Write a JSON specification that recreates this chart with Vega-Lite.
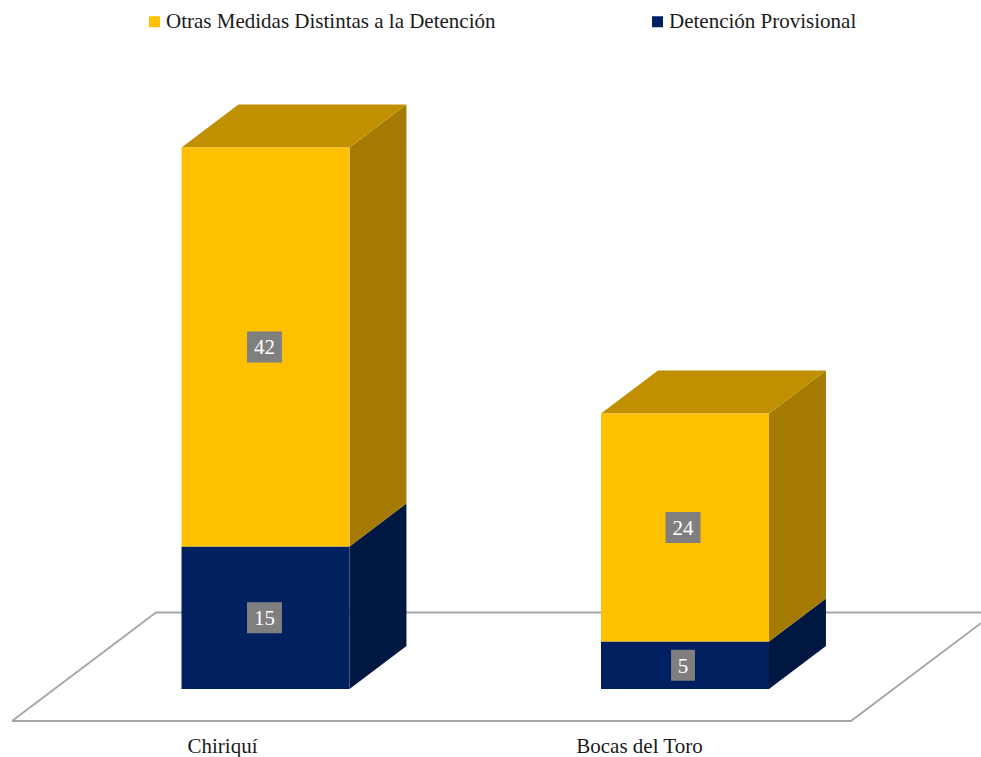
{
"$schema":"https://vega.github.io/schema/vega-lite/v6.json",
"width":981,"height":757,"padding":0,"autosize":{"type":"none"},
"background":"white",
"view":{"stroke":null},
"config":{"font":"Liberation Serif","text":{"font":"Liberation Serif"}},
"datasets":{
"floor":[
{"paso":1,"px":-1.009,"py":-3.37},
{"paso":2,"px":-0.152,"py":8.05},
{"paso":3,"px":4.842,"py":8.05},
{"paso":4,"px":3.985,"py":-3.37},
{"paso":5,"px":-1.009,"py":-3.37}],
"caras":[
{"cara":"c1-d-lado","tono":"Detención lateral","px":1,"lo":0,"hi":15},
{"cara":"c1-d-lado","tono":"Detención lateral","px":1.339,"lo":4.53,"hi":19.53},
{"cara":"c1-o-lado","tono":"Otras lateral","px":1,"lo":15,"hi":57},
{"cara":"c1-o-lado","tono":"Otras lateral","px":1.339,"lo":19.53,"hi":61.53},
{"cara":"c1-o-sup","tono":"Otras superior","px":0,"lo":57,"hi":57},
{"cara":"c1-o-sup","tono":"Otras superior","px":0.339,"lo":57,"hi":61.53},
{"cara":"c1-o-sup","tono":"Otras superior","px":1,"lo":57,"hi":61.53},
{"cara":"c1-o-sup","tono":"Otras superior","px":1.339,"lo":61.53,"hi":61.53},
{"cara":"c2-d-lado","tono":"Detención lateral","px":3.497,"lo":0,"hi":5},
{"cara":"c2-d-lado","tono":"Detención lateral","px":3.836,"lo":4.53,"hi":9.53},
{"cara":"c2-o-lado","tono":"Otras lateral","px":3.497,"lo":5,"hi":29},
{"cara":"c2-o-lado","tono":"Otras lateral","px":3.836,"lo":9.53,"hi":33.53},
{"cara":"c2-o-sup","tono":"Otras superior","px":2.497,"lo":29,"hi":29},
{"cara":"c2-o-sup","tono":"Otras superior","px":2.836,"lo":29,"hi":33.53},
{"cara":"c2-o-sup","tono":"Otras superior","px":3.497,"lo":29,"hi":33.53},
{"cara":"c2-o-sup","tono":"Otras superior","px":3.836,"lo":33.53,"hi":33.53}],
"barras":[
{"provincia":"Chiriquí","medida":"Detención Provisional","valor":15,"x0":0,"x1":1,"y0":0,"y1":15,"cx":0.494,"cy":7.5,"a0":0.39,"a1":0.598,"b0":5.87,"b1":9.13},
{"provincia":"Chiriquí","medida":"Otras Medidas Distintas a la Detención","valor":42,"x0":0,"x1":1,"y0":15,"y1":57,"cx":0.494,"cy":36,"a0":0.39,"a1":0.598,"b0":34.37,"b1":37.63},
{"provincia":"Bocas del Toro","medida":"Detención Provisional","valor":5,"x0":2.497,"x1":3.497,"y0":0,"y1":5,"cx":2.985,"cy":2.5,"a0":2.914,"a1":3.056,"b0":0.87,"b1":4.13},
{"provincia":"Bocas del Toro","medida":"Otras Medidas Distintas a la Detención","valor":24,"x0":2.497,"x1":3.497,"y0":5,"y1":29,"cx":2.985,"cy":17,"a0":2.881,"a1":3.089,"b0":15.37,"b1":18.63}],
"categorias":[
{"provincia":"Chiriquí","cx":0.244,"cy":-6.1},
{"provincia":"Bocas del Toro","cx":2.726,"cy":-6.1}]
},
"resolve":{"scale":{"color":"independent"}},
"layer":[
{"data":{"name":"floor"},
 "mark":{"type":"line","stroke":"#A6A6A6","strokeWidth":1.8,"clip":true},
 "encoding":{
  "x":{"field":"px","type":"quantitative","scale":{"domain":[-1.0804,4.7589],"nice":false,"zero":false},"axis":null},
  "y":{"field":"py","type":"quantitative","scale":{"domain":[-7.158,72.526],"nice":false,"zero":false},"axis":null},
  "order":{"field":"paso","type":"ordinal"}}},
{"data":{"name":"caras"},
 "mark":{"type":"area","clip":true},
 "encoding":{
  "x":{"field":"px","type":"quantitative","axis":null},
  "y":{"field":"lo","type":"quantitative","stack":null,"axis":null},
  "y2":{"field":"hi"},
  "detail":{"field":"cara"},
  "color":{"field":"tono","type":"nominal","legend":null,"scale":{"domain":["Detención lateral","Otras lateral","Otras superior"],"range":["#001742","#A47B00","#C09000"]}}}},
{"data":{"name":"barras"},
 "mark":{"type":"rect"},
 "encoding":{
  "x":{"field":"x0","type":"quantitative","axis":null},
  "x2":{"field":"x1"},
  "y":{"field":"y0","type":"quantitative","axis":null},
  "y2":{"field":"y1"},
  "color":{"field":"medida","type":"nominal",
   "scale":{"domain":["Otras Medidas Distintas a la Detención","Detención Provisional"],"range":["#FFC000","#002060"]},
   "legend":{"title":null,"orient":"none","legendX":144,"legendY":11,"direction":"horizontal","columns":2,"columnPadding":151,
    "symbolType":"square","symbolSize":121,"symbolStrokeWidth":0,"labelOffset":1,"labelFont":"Liberation Serif","labelFontSize":21,"labelColor":"#1A1A1A","labelLimit":500}}}},
{"data":{"name":"barras"},
 "mark":{"type":"rect","fill":"#7F7F7F"},
 "encoding":{
  "x":{"field":"a0","type":"quantitative","axis":null},
  "x2":{"field":"a1"},
  "y":{"field":"b0","type":"quantitative","axis":null},
  "y2":{"field":"b1"}}},
{"data":{"name":"barras"},
 "mark":{"type":"text","fill":"white","fontSize":21,"font":"Liberation Serif","align":"center","baseline":"middle","dy":1.5},
 "encoding":{
  "x":{"field":"cx","type":"quantitative","axis":null},
  "y":{"field":"cy","type":"quantitative","axis":null},
  "text":{"field":"valor","type":"quantitative"}}},
{"data":{"name":"categorias"},
 "mark":{"type":"text","fill":"#1A1A1A","fontSize":21,"font":"Liberation Serif","align":"center","baseline":"middle"},
 "encoding":{
  "x":{"field":"cx","type":"quantitative","axis":null},
  "y":{"field":"cy","type":"quantitative","axis":null},
  "text":{"field":"provincia","type":"nominal"}}}
]
}
